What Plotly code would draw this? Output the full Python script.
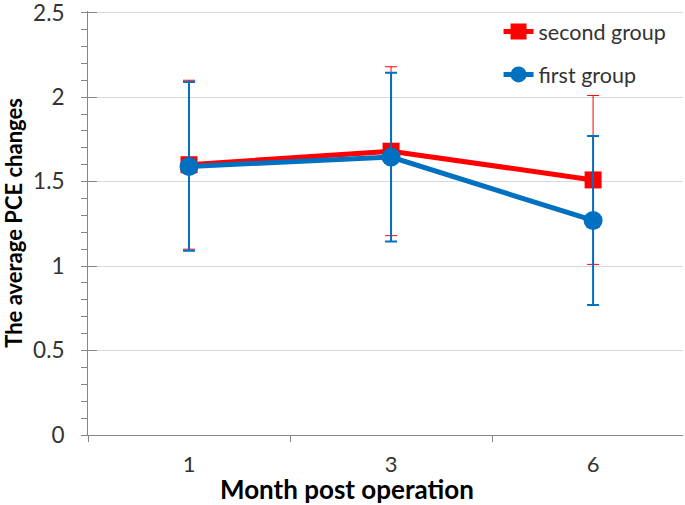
import plotly.graph_objects as go

months = ["1", "3", "6"]
second_group = [1.60, 1.68, 1.51]
second_err = [0.50, 0.50, 0.50]
first_group = [1.59, 1.645, 1.27]
first_err = [0.50, 0.50, 0.50]
y_ticks = [0, 0.5, 1, 1.5, 2, 2.5]
y_tick_text = ["0", "0.5", "1", "1.5", "2", "2.5"]

RED = "#FF0000"
BLUE = "#0070C0"
FONT = "Lato"

fig = go.Figure()
fig.add_trace(go.Scatter(
    x=months, y=second_group, name="second group", mode="lines+markers",
    legendgroup="a",
    line=dict(color=RED, width=5),
    marker=dict(symbol="square", size=17, color=RED),
    error_y=dict(type="data", array=second_err, color=RED, thickness=1, width=6),
))
fig.add_trace(go.Scatter(
    x=months, y=first_group, name="first group", mode="lines+markers",
    legendgroup="b",
    line=dict(color=BLUE, width=5),
    marker=dict(symbol="circle", size=19, color=BLUE),
    error_y=dict(type="data", array=first_err, color=BLUE, thickness=2, width=6),
))
# invisible trace to carry the inside part of the major y ticks
fig.add_trace(go.Scatter(x=months, y=second_group, yaxis="y2", showlegend=False,
                         mode="markers", marker=dict(opacity=0), hoverinfo="skip"))

YR = [0, 2.51]
fig.update_layout(
    width=685, height=505,
    margin=dict(l=88, r=2, t=11, b=70),
    paper_bgcolor="white", plot_bgcolor="white",
    font=dict(family=FONT, size=20, color="#333"),
    showlegend=True,
    legend=dict(x=0.69, y=1.0, xanchor="left", yanchor="top",
                bgcolor="rgba(0,0,0,0)", font=dict(size=21.5, color="#333"),
                traceorder="grouped", tracegroupgap=12),
    xaxis=dict(
        type="category", range=[-0.5, 2.445], automargin=False,
        showline=True, linecolor="#868686", linewidth=1,
        ticks="outside", ticklen=6, tickcolor="#868686", tickson="boundaries",
        showgrid=False, zeroline=False,
        ticklabelstandoff=10,
        tickfont=dict(size=22, color="#333"),
    ),
    yaxis=dict(
        range=YR, tickvals=y_ticks, ticktext=y_tick_text, automargin=False,
        ticklabeloverflow="allow",
        showline=True, linecolor="#868686", linewidth=1,
        ticks="outside", ticklen=6, tickcolor="#868686",
        minor=dict(dtick=0.1, ticks="outside", ticklen=6, tickcolor="#868686", showgrid=False),
        showgrid=True, gridcolor="#D9D9D9", gridwidth=1,
        zeroline=False, ticklabelstandoff=12,
        tickfont=dict(size=22.5, color="#333"),
        title=dict(text="<b>The average PCE changes</b>", font=dict(size=22, color="#000"), standoff=8),
    ),
    yaxis2=dict(
        range=YR, tickvals=y_ticks, overlaying="y", side="left", automargin=False,
        showline=False, showgrid=False, zeroline=False,
        ticks="inside", ticklen=9, tickcolor="#868686", showticklabels=False,
    ),
)
pw = 685 - 88 - 2
ph = 505 - 11 - 70
fig.add_annotation(
    text="<b>Month post operation</b>",
    x=(347 - 88) / pw, xref="paper", y=(435 - 489) / ph, yref="paper",
    xanchor="center", yanchor="middle",
    showarrow=False, font=dict(size=26, color="#000"),
)

fig.write_html("out.html", config={"displayModeBar": False},
               post_script="document.body.style.margin='0';")
